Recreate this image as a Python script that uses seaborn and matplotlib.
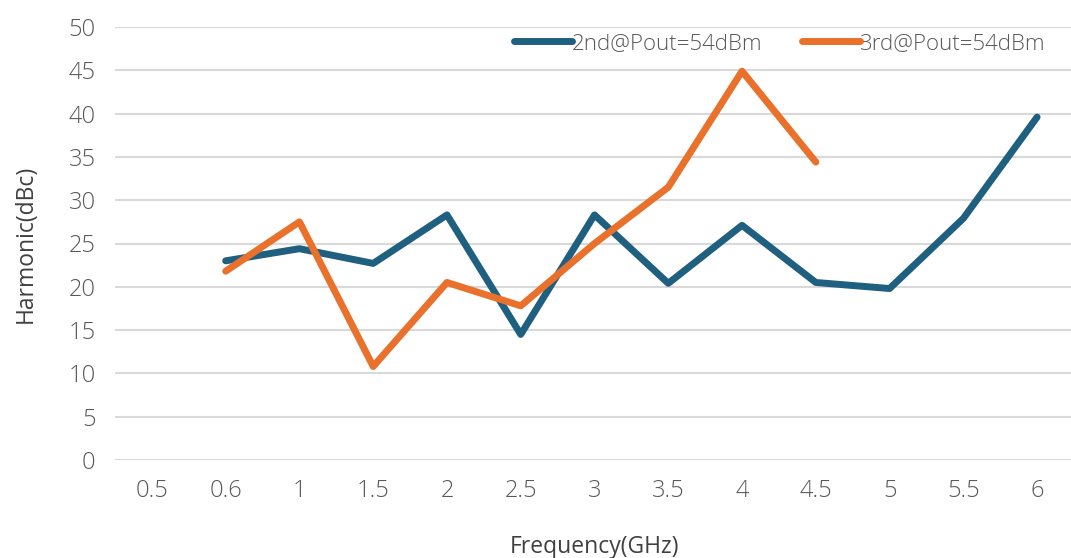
import numpy as np
import pandas as pd
import matplotlib.pyplot as plt
import seaborn as sns
from matplotlib import font_manager

# Data
freq_labels = ['0.5', '0.6', '1', '1.5', '2', '2.5', '3', '3.5', '4', '4.5', '5', '5.5', '6']
second = [np.nan, 23.0, 24.4, 22.7, 28.3, 14.5, 28.3, 20.4, 27.1, 20.5, 19.8, 27.9, 39.6]
third = [np.nan, 21.8, 27.5, 10.8, 20.5, 17.8, 25.0, 31.5, 44.9, 34.4, np.nan, np.nan, np.nan]

pos = list(range(len(freq_labels)))
df = pd.DataFrame({
    'pos': pos * 2,
    'value': second + third,
    'series': ['2nd@Pout=54dBm'] * len(pos) + ['3rd@Pout=54dBm'] * len(pos),
})

sns.set_style('white')
plt.rcParams['font.family'] = ['DejaVu Sans']

fig = plt.figure(figsize=(10.71, 5.58), dpi=100)
ax = fig.add_axes([115 / 1071, 1 - 460 / 558, (1074 - 115) / 1071, (460 - 27) / 558])

palette = {'2nd@Pout=54dBm': '#1F5F7F', '3rd@Pout=54dBm': '#E9712B'}
sns.lineplot(data=df, x='pos', y='value', hue='series', palette=palette,
             linewidth=5, solid_capstyle='round', ax=ax)

ax.set_xlim(-0.5, len(freq_labels) - 0.5)
ax.set_ylim(0, 50)
ax.set_yticks(range(0, 51, 5))
ax.set_xticks(pos)
ax.set_xticklabels(freq_labels)
ax.tick_params(axis='both', length=0)
ax.tick_params(axis='x', pad=14)
ax.tick_params(axis='y', pad=14)
tick_font = font_manager.FontProperties(family='Open Sans', stretch='normal', weight='light', size=17)
for t in ax.get_xticklabels() + ax.get_yticklabels():
    t.set_fontproperties(tick_font)
    t.set_color('#595959')
ax.grid(axis='y', color='#D9D9D9', linewidth=1.5)
ax.set_axisbelow(True)
for s in ax.spines.values():
    s.set_visible(False)

label_font = font_manager.FontProperties(family='Open Sans', stretch='normal', weight='normal', size=16.5)
ax.set_xlabel('Frequency(GHz)', fontproperties=label_font, color='#404040', labelpad=23)
ax.set_ylabel('Harmonic(dBc)', fontproperties=label_font, color='#404040', labelpad=22)

leg_font = font_manager.FontProperties(family='Open Sans', stretch='normal', weight='light', size=16)
leg = ax.legend(loc='center right', bbox_to_anchor=(0.982, 0.962), ncol=2, frameon=False,
                prop=leg_font, handlelength=2.6, handletextpad=0.0, columnspacing=1.8,
                borderpad=0, labelcolor='#595959')
for line in leg.get_lines():
    line.set_linewidth(5)

fig.savefig('out.png', dpi=100)
